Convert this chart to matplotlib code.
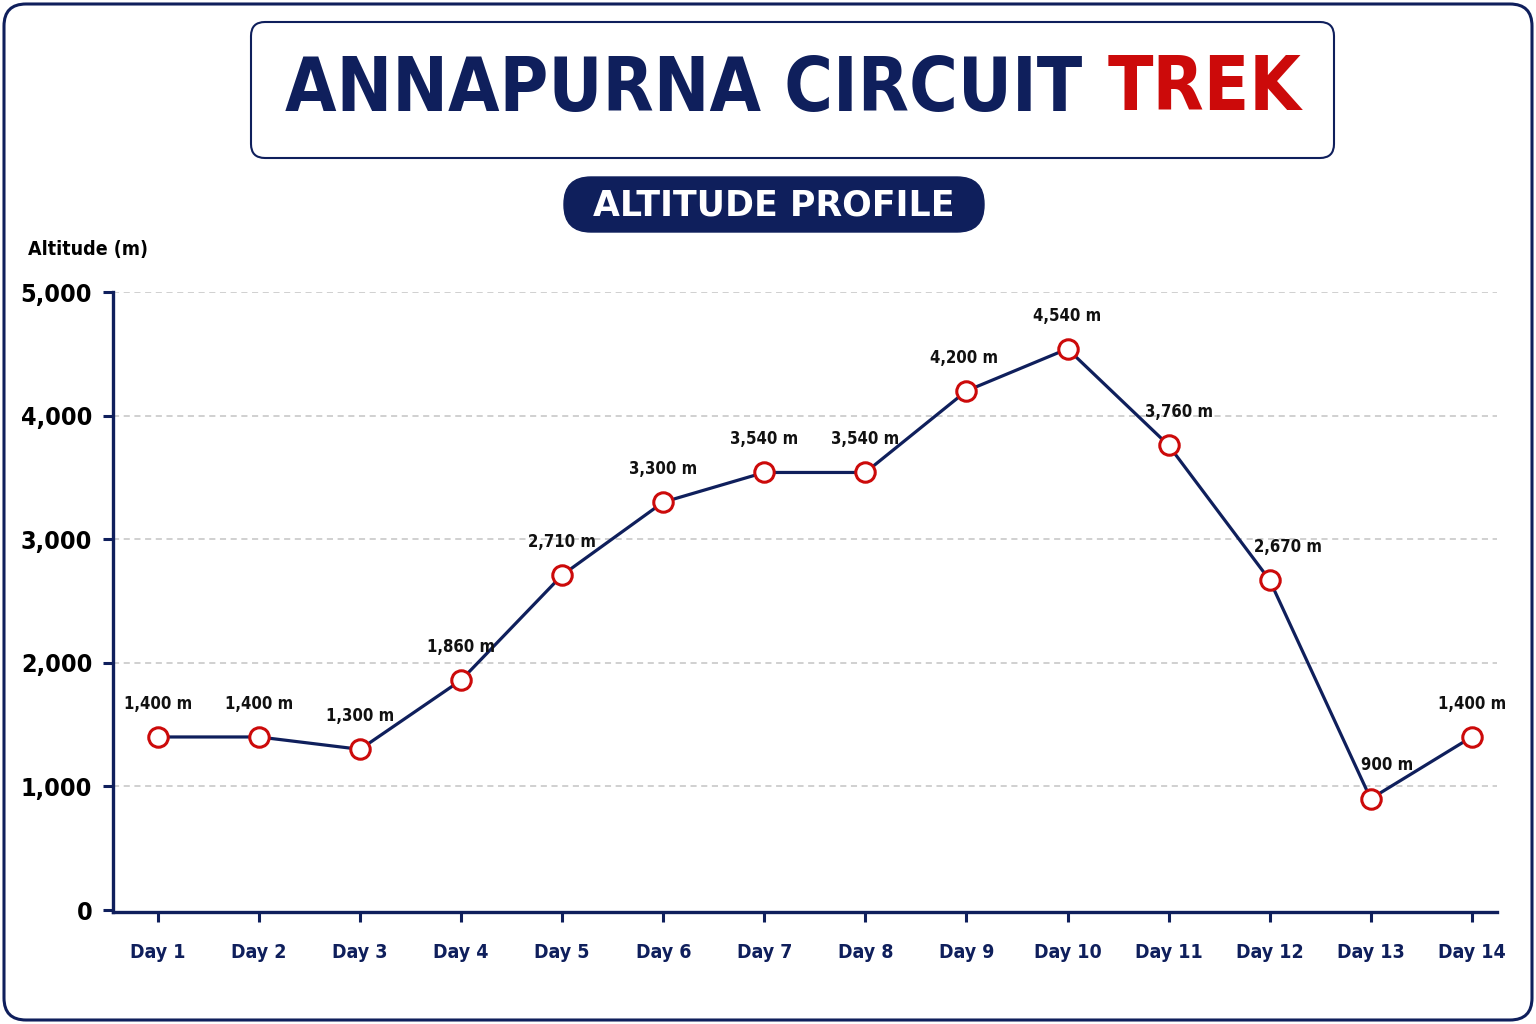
import matplotlib
matplotlib.use('Agg')
import matplotlib.pyplot as plt
from matplotlib.patches import FancyBboxPatch

# datos del perfil
days = ['Day 1', 'Day 2', 'Day 3', 'Day 4', 'Day 5', 'Day 6', 'Day 7',
        'Day 8', 'Day 9', 'Day 10', 'Day 11', 'Day 12', 'Day 13', 'Day 14']
altitudes = [1400, 1400, 1300, 1860, 2710, 3300, 3540,
             3540, 4200, 4540, 3760, 2670, 900, 1400]
y_ticks = [0, 1000, 2000, 3000, 4000, 5000]
y_tick_labels = ['0', '1,000', '2,000', '3,000', '4,000', '5,000']

# desplazamiento horizontal de algunas etiquetas (px)
label_dx = [0, 0, 0, 0, 0, 0, 0, 0, -2, 0, 10, 18, 16, 0]

NAVY = '#0f1f5c'
RED = '#cc0a0a'
FONT = dict(family='DejaVu Sans', fontstretch='condensed')

fig = plt.figure(figsize=(15.36, 10.24), dpi=100)
fig.patch.set_facecolor('white')

# capa de decoracion en pixeles
deco = fig.add_axes([0, 0, 1, 1])
deco.set_xlim(0, 1536)
deco.set_ylim(1024, 0)
deco.axis('off')

deco.add_patch(FancyBboxPatch((4, 4), 1528, 1016, boxstyle='round,pad=0,rounding_size=22',
                              fc='white', ec=NAVY, lw=2.2))
deco.add_patch(FancyBboxPatch((251, 22), 1083, 136, boxstyle='round,pad=0,rounding_size=14',
                              fc='white', ec=NAVY, lw=1.5))
deco.add_patch(FancyBboxPatch((564, 177), 420, 55, boxstyle='round,pad=0,rounding_size=27',
                              fc=NAVY, ec=NAVY, lw=1))

t1 = deco.text(1082, 90, 'ANNAPURNA CIRCUIT', ha='right', va='center', color=NAVY,
               fontsize=70, fontweight='heavy', **FONT)
t2 = deco.text(1108, 90, 'TREK', ha='left', va='center', color=RED,
               fontsize=70, fontweight='heavy', **FONT)
deco.text(774, 205, 'ALTITUDE PROFILE', ha='center', va='center', color='white',
          fontsize=25, fontweight='bold', family='DejaVu Sans')
deco.text(28, 250, 'Altitude (m)', ha='left', va='center', color='black',
          fontsize=14, fontweight='bold', **FONT)

# ajustar el titulo al ancho de la caja
fig.canvas.draw()
w = t1.get_window_extent().width
size = 70 * (1082 - 285) / w
t1.set_fontsize(size)
t2.set_fontsize(size)

# grafico
ax = fig.add_axes([113 / 1536, 1 - 912 / 1024, (1497 - 113) / 1536, (912 - 292) / 1024])
ax.set_facecolor('none')
x = list(range(1, len(days) + 1))
ax.plot(x, altitudes, color=NAVY, lw=2.3, zorder=3,
        marker='o', markersize=14, markerfacecolor='white',
        markeredgecolor=RED, markeredgewidth=2.2)

for xi, yi, dx in zip(x, altitudes, label_dx):
    ax.annotate(f'{yi:,} m', (xi, yi), xytext=(dx * 0.72, 24), textcoords='offset points',
                ha='center', va='center', fontsize=12, fontweight='bold',
                color='#111111', **FONT)

ax.set_xlim(0.555, 14.25)
ax.set_ylim(-16, 5000)
ax.set_xticks(x)
ax.set_xticklabels(days, color=NAVY, fontsize=14, fontweight='bold', **FONT)
ax.set_yticks(y_ticks)
ax.set_yticklabels(y_tick_labels, color='black', fontsize=18, fontweight='bold', **FONT)
ax.tick_params(axis='x', length=7, width=2.2, color=NAVY, pad=15)
ax.tick_params(axis='y', length=7, width=2.2, color=NAVY, pad=8)

for s in ['top', 'right']:
    ax.spines[s].set_visible(False)
for s in ['left', 'bottom']:
    ax.spines[s].set_color(NAVY)
    ax.spines[s].set_linewidth(2.4)

ax.yaxis.grid(True, linestyle=(0, (4, 3)), color='#c4c4c4', lw=1.1)
ax.set_axisbelow(True)
ax.yaxis.get_gridlines()[0].set_visible(False)

plt.savefig('out.png', dpi=100)
